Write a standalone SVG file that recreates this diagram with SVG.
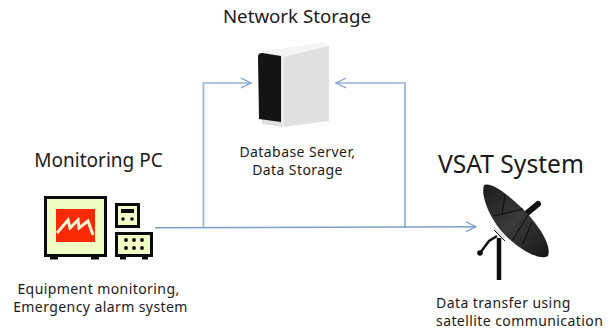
<svg xmlns="http://www.w3.org/2000/svg" width="615" height="331" viewBox="0 0 615 331">
<defs>
<linearGradient id="dish" x1="0" y1="0" x2="1" y2="1"><stop offset="0" stop-color="#1c1c1c"/><stop offset="0.5" stop-color="#3a3a3a"/><stop offset="1" stop-color="#161616"/></linearGradient>
<marker id="open" markerWidth="12" markerHeight="14" refX="10" refY="6" orient="auto" markerUnits="userSpaceOnUse"><path d="M0 1L10 6L0 11" fill="none" stroke="#7c9fd0" stroke-width="1.300"/></marker>
</defs>
<style>
text{font-family:"Noto Sans","Open Sans","Liberation Sans",sans-serif;fill:#1a1a1a}
.l{font-size:19px}
.s{font-size:14px;letter-spacing:0.420px}
.c{stroke:#93b3dc;stroke-width:1.700;fill:none}
.k{fill:#0a0a0a}
.b{fill:#f1fbc4;stroke:#0a0a0a;stroke-width:3}
</style>
<rect width="615" height="331" fill="#fff"/>
<g id="connectors">
<path class="c" d="M203.500 227.500V83H251" marker-end="url(#open)"/>
<path class="c" d="M405 227.500V83H336" marker-end="url(#open)"/>
<path class="c" d="M155 227.700L476 226.700" marker-end="url(#open)" style="stroke:#7c9fd0;stroke-width:1.500"/>
</g>
<g id="network-storage">
<text x="297" y="23" text-anchor="middle" font-size="18.700">Network Storage</text>
<path d="M262 52L322 43L329 46V121L283 127L262 124Z" fill="#e0e0e0"/>
<path d="M262 52L322 43L329 46L283 57Z" fill="#f5f5f5"/>
<path d="M258 57Q258 53 262 53L281 56V122L259 119Z" fill="#141414"/>
<path d="M283 57V127" stroke="#f2f2f2" stroke-width="1.500"/>
<text class="s" x="297.500" y="157" text-anchor="middle">Database Server,</text>
<text class="s" x="297.500" y="175" text-anchor="middle">Data Storage</text>
</g>
<g id="monitoring-pc">
<text class="l" x="98.500" y="167" text-anchor="middle">Monitoring PC</text>
<rect class="b" x="45.500" y="197.500" width="60" height="58"/>
<rect x="56" y="209" width="39" height="33" fill="#fb2a05"/>
<path d="M57 233L68 220L70 228L78 220L79 228L88 221L93 235" fill="none" stroke="#f5f5d5" stroke-width="3"/>
<rect class="k" x="50" y="256" width="8" height="3.500"/><rect class="k" x="91" y="256" width="8" height="3.500"/>
<rect class="b" x="116.500" y="204.500" width="22" height="22"/>
<rect class="k" x="121" y="209" width="13" height="4"/>
<circle class="k" cx="123" cy="219" r="1.800"/><circle class="k" cx="132" cy="219" r="1.800"/>
<rect class="b" x="116.500" y="233.500" width="35" height="22"/>
<rect class="k" x="120" y="256" width="6" height="3.500"/><rect class="k" x="142" y="256" width="6" height="3.500"/>
<g class="k"><circle cx="126" cy="240" r="1.900"/><circle cx="134" cy="240" r="1.900"/><circle cx="142" cy="240" r="1.900"/><circle cx="126" cy="248" r="1.900"/><circle cx="134" cy="248" r="1.900"/><circle cx="142" cy="248" r="1.900"/></g>
<text class="s" x="98.500" y="294" text-anchor="middle">Equipment monitoring,</text>
<text class="s" x="100.500" y="312" text-anchor="middle">Emergency alarm system</text>
</g>
<g id="vsat-system">
<text x="511" y="173" text-anchor="middle" font-size="24.600">VSAT System</text>
<path d="M526 214L538 204" stroke="#111" stroke-width="6" stroke-linecap="round"/>
<path d="M484 185C491 182 505 192 522 208C538 224 552 245 548 256C540 261 520 250 505 235C492 222 480 197 484 185Z" fill="url(#dish)"/>
<path d="M505 195L502 214L523 209M502 214L493 216M528 215L512 241M532 222L523 244" stroke="#0a0a0a" stroke-width="1" fill="none"/>
<path d="M495 229L505 238" stroke="#ddd" stroke-width="2.500"/>
<path d="M499 238V280" stroke="#0c0c0c" stroke-width="4.500"/>
<path d="M497 236L489 241L480 253" stroke="#111" stroke-width="2.500" fill="none"/>
<path d="M494 230L505 241" stroke="#111" stroke-width="1" fill="none"/>
<circle class="k" cx="480" cy="253" r="2.800"/>
<text class="s" x="436" y="307.500">Data transfer using</text>
<text class="s" x="436" y="325.500">satellite communication</text>
</g>
</svg>
